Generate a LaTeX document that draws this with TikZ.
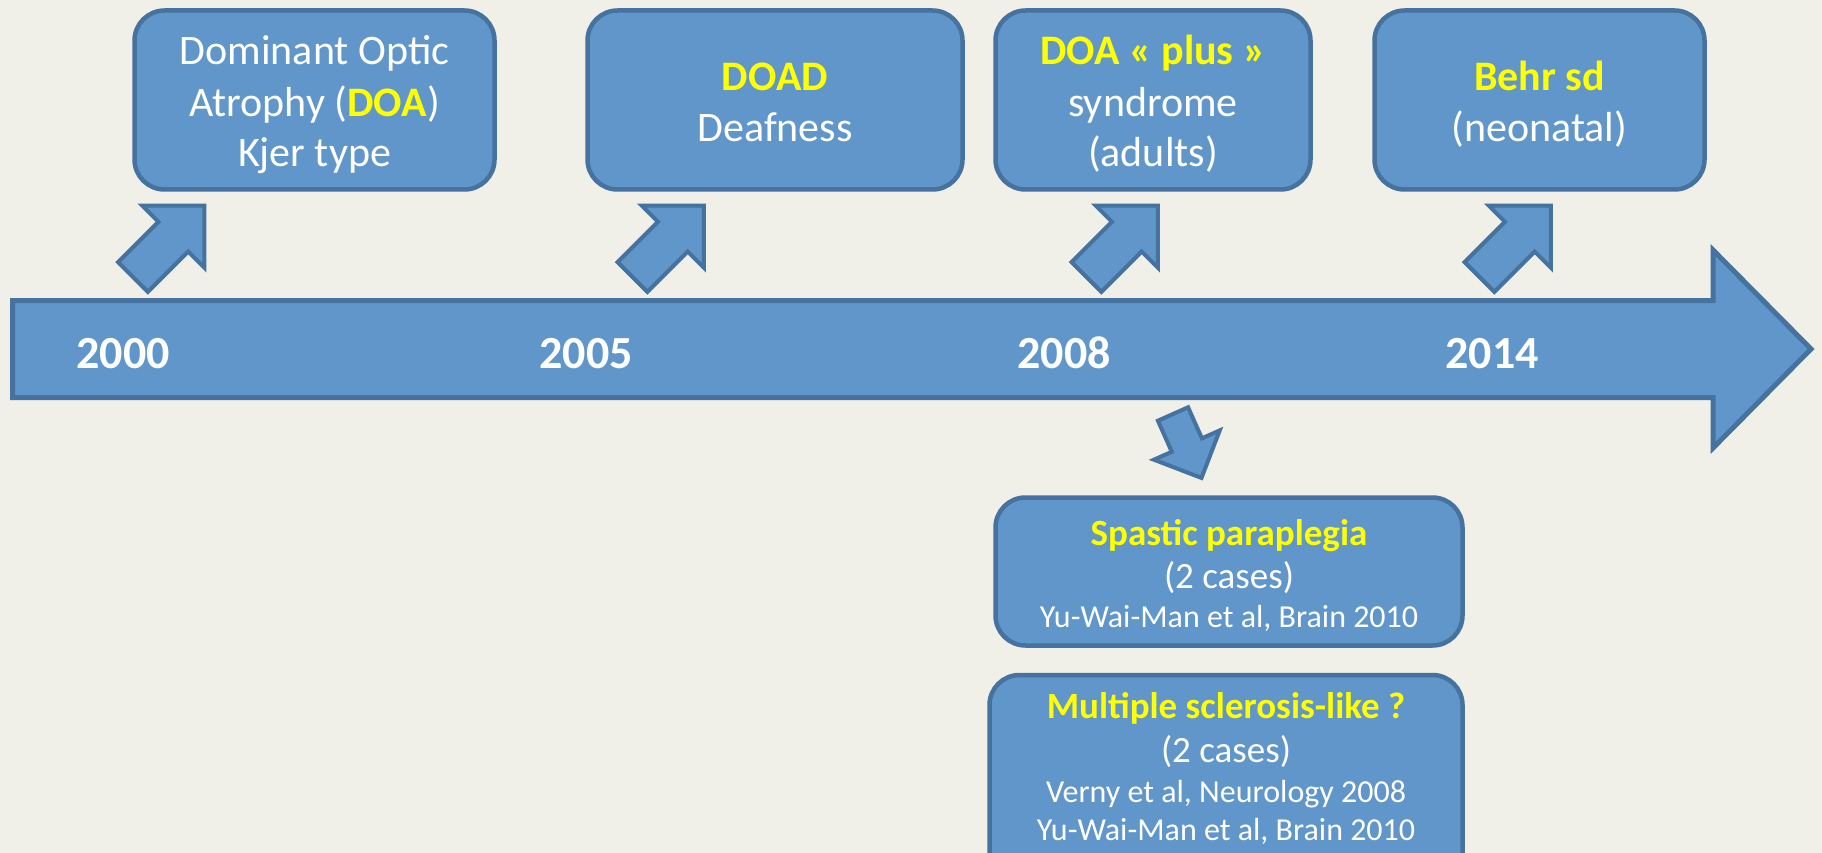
\documentclass[tikz,border=0pt]{standalone}
\usepackage{fontspec}
\setmainfont{Carlito}
\definecolor{bgc}{HTML}{F0F0E8}
\definecolor{fillc}{HTML}{6096C9}
\definecolor{bordc}{HTML}{45729E}
\definecolor{hlc}{HTML}{FFFF00}
\newcommand{\yel}[1]{\textcolor{hlc}{\textbf{#1}}}
\tikzset{
  box/.style={draw=bordc, fill=fillc, line width=4.5pt, rounded corners=30pt, inner sep=0pt, minimum height=179pt},
  bigarrow/.style={draw=bordc, fill=fillc, line width=5pt, line join=miter},
  sarrow/.style={draw=bordc, fill=fillc, line width=4pt, line join=miter},
  bigtxt/.style={anchor=base, text=white, inner sep=0pt, font=\fontsize{42}{50}\selectfont},
  smtxt/.style={anchor=base, text=white, inner sep=0pt, font=\fontsize{37}{44}\selectfont},
  cite/.style={anchor=base, text=white, inner sep=0pt, font=\fontsize{32}{38}\selectfont},
  year/.style={anchor=base, text=white, inner sep=0pt, font=\fontsize{46}{55}\selectfont\bfseries},
  uparr/.pic={\draw[sarrow] (0,21) -- (57,21) -- (57,44) -- (101,0) -- (57,-44) -- (57,-21) -- (0,-21) -- cycle;},
  downarr/.pic={\draw[sarrow] (0,16.5) -- (34,16.5) -- (34,36) -- (70,0) -- (34,-36) -- (34,-16.5) -- (0,-16.5) -- cycle;}
}
\begin{document}
\begin{tikzpicture}[x=1pt,y=-1pt]
\useasboundingbox (0,0) rectangle (1822,853);
\fill[bgc] (0,0) rectangle (1822,853);
\clip (0,0) rectangle (1822,853);

% timeline arrow
\draw[bigarrow] (12.5,300.5) -- (1713,300.5) -- (1713,250) -- (1811,349) -- (1713,448) -- (1713,397.5) -- (12.5,397.5) -- cycle;

% small arrows
\pic[rotate=45] at (133,277) {uparr};
\pic[rotate=45] at (632.5,277) {uparr};
\pic[rotate=45] at (1086.5,277) {uparr};
\pic[rotate=45] at (1479.5,277) {uparr};
\pic[rotate=-66] at (1173,414) {downarr};

% boxes
\node[box, minimum width=360pt] (b1) at (314.5,100) {};
\node[box, minimum width=375pt] (b2) at (775,100) {};
\node[box, minimum width=315pt] (b3) at (1153,100) {};
\node[box, minimum width=330pt] (b4) at (1539.5,100) {};
\node[box, minimum width=467pt, minimum height=148pt] (b5) at (1229,571.5) {};
\node[box, minimum width=473pt, minimum height=210pt] (b6) at (1226,780) {};

% years
\node[year] (y2000) at (123,368) {2000};
\node[year] (y2005) at (586,368) {2005};
\node[year] (y2008) at (1064,368) {2008};
\node[year] (y2014) at (1492,368) {2014};

% box texts
\node[bigtxt] (t11) at (314.5,65) {Dominant Optic};
\node[bigtxt] (t12) at (314.5,117) {Atrophy (\yel{DOA})};
\node[bigtxt] (t13) at (314.5,167) {Kjer type};

\node[bigtxt] (t21) at (775,91) {\yel{DOAD}};
\node[bigtxt] (t22) at (775,142) {Deafness};

\node[bigtxt] (t31) at (1153,65) {\yel{DOA « plus »}};
\node[bigtxt] (t32) at (1153,117) {syndrome};
\node[bigtxt] (t33) at (1153,167) {(adults)};

\node[bigtxt] (t41) at (1539.5,91) {\yel{Behr sd}};
\node[bigtxt] (t42) at (1539.5,142) {(neonatal)};

\node[smtxt] (t51) at (1229,545) {\yel{Spastic paraplegia}};
\node[smtxt] (t52) at (1229,588) {(2 cases)};
\node[cite] (t53) at (1229,627) {Yu-Wai-Man et al, Brain 2010};

\node[smtxt] (t61) at (1226,718) {\yel{Multiple sclerosis-like ?}};
\node[smtxt] (t62) at (1226,762) {(2 cases)};
\node[cite] (t63) at (1226,802) {Verny et al, Neurology 2008};
\node[cite] (t64) at (1226,840) {Yu-Wai-Man et al, Brain 2010};
\end{tikzpicture}
\end{document}
